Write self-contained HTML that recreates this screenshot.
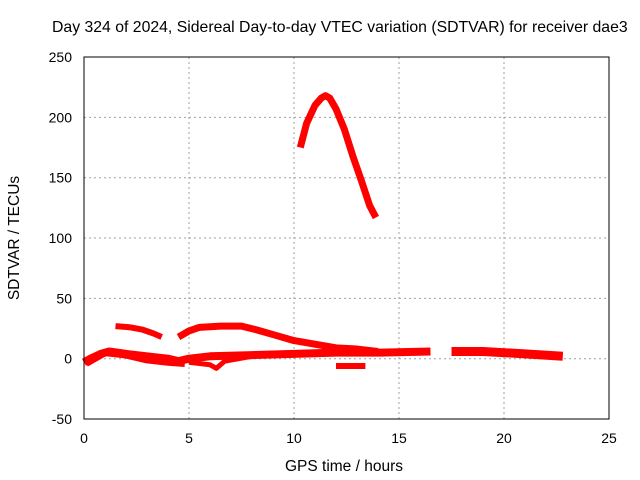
<!DOCTYPE html>
<html><head><meta charset="utf-8"><style>
body{margin:0;background:#fff}
svg{display:block;font-family:"Liberation Sans",sans-serif}
</style></head><body>
<svg id="c" width="640" height="480">
<rect width="640" height="480" fill="#fff"/>
<text x="52" y="32" font-size="15.8">Day 324 of 2024, Sidereal Day-to-day VTEC variation (SDTVAR) for receiver dae3</text>
<text x="344" y="471" font-size="15.5" text-anchor="middle">GPS time / hours</text>
<text transform="translate(19,238) rotate(-90)" font-size="15.5" text-anchor="middle">SDTVAR / TECUs</text>
<g id="grid"></g>
<g id="series"></g>
<rect x="84" y="57" width="525" height="362" fill="none" stroke="#000" stroke-width="1"/>
</svg>
<script>
const xTicks=[0,5,10,15,20,25];
const yTicks=[-50,0,50,100,150,200,250];
const arcX=[10.3,10.6,11.0,11.3,11.5,11.7,12.0,12.4,12.8,13.2,13.6,13.9];
const arcY=[175,195,210,216,218,216,207,190,168,148,127,117];
const bX=[1.5,2.2,2.8,3.3,3.7];
const bY=[27,26,24,21,18];
const cX=[4.5,5.0,5.5,6.5,7.5,8.2,9,10,11,12,13,14];
const cY=[18,23,26,27,27,24,20,15,12,9,8,6];
const dX=[0,0.3,0.8,1.2,2,3,4,4.5,5,6,8,10,12,14,16.5];
const dY=[-3,0,4,6,4,2,0,-2,0,2,3,4,5,5,6];
const d2X=[17.5,19,21,22.8];
const d2Y=[6,6,4,2];
const fX=[0.1,1,2,3,4,4.8];
const fY=[-4,5,3,-1,-3,-4];
const gX=[5,6,6.3,6.7,8];
const gY=[-3,-5,-8,-2,2];
const eX=[12,13.4];
const eY=[-6,-6];
const NS="http://www.w3.org/2000/svg";
const sx=v=>84+v*21, sy=v=>358.7-v*362/300;
const grid=document.getElementById('grid'), svg=document.getElementById('c');
xTicks.forEach(t=>{
 if(t>0&&t<25){const l=document.createElementNS(NS,'line');
 
 
 l.setAttribute('x1',sx(t));l.setAttribute('x2',sx(t));l.setAttribute('y1',57);l.setAttribute('y2',419);
 l.setAttribute('stroke','#a0a0a0');l.setAttribute('stroke-dasharray','2,3');grid.appendChild(l);}
 const tx=document.createElementNS(NS,'text');
 
 
 tx.setAttribute('x',sx(t));tx.setAttribute('y',443);tx.setAttribute('font-size','14');tx.setAttribute('text-anchor','middle');
 tx.textContent=t;svg.appendChild(tx);
});
yTicks.forEach(t=>{
 if(t>-50&&t<250){const l=document.createElementNS(NS,'line');
 
 
 l.setAttribute('x1',84);l.setAttribute('x2',609);l.setAttribute('y1',sy(t));l.setAttribute('y2',sy(t));
 l.setAttribute('stroke','#a0a0a0');l.setAttribute('stroke-dasharray','2,3');grid.appendChild(l);}
 const tx=document.createElementNS(NS,'text');
 
 
 tx.setAttribute('x',72);tx.setAttribute('y',sy(t)+5);tx.setAttribute('font-size','14');tx.setAttribute('text-anchor','end');
 tx.textContent=t;svg.appendChild(tx);
});
const ser=document.getElementById('series');
[[arcX,arcY,7],[bX,bY,6],[cX,cY,7],[dX,dY,8],[d2X,d2Y,9],[fX,fY,7],[gX,gY,5],[eX,eY,6]].forEach(([xs,ys,w])=>{
 const p=document.createElementNS(NS,'polyline');
 
 
 p.setAttribute('points',xs.map((x,i)=>sx(x)+','+sy(ys[i])).join(' '));
 p.setAttribute('fill','none');p.setAttribute('stroke','#ff0000');p.setAttribute('stroke-width',w);
 p.setAttribute('stroke-linejoin','round');
 ser.appendChild(p);
});
</script>
</body></html>
